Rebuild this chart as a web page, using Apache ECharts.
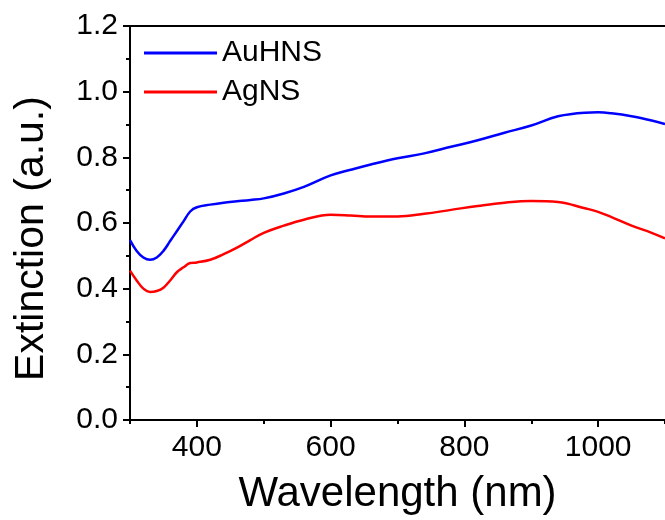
<!DOCTYPE html>
<html>
<head>
<meta charset="utf-8">
<script src="https://cdn.jsdelivr.net/npm/echarts@6/dist/echarts.min.js"></script>
<style>html,body{margin:0;padding:0;background:#fff}#c{width:665px;height:520px}</style>
</head>
<body>
<div id="c"></div>
<script>
const wavelength = [300,310,320,330,340,350,360,370,380,390,400,420,440,460,480,500,530,560,600,630,660,700,740,780,820,860,900,940,980,1000,1020,1050,1080,1100];
const auHNS = [0.548,0.515,0.495,0.488,0.495,0.515,0.545,0.575,0.605,0.635,0.648,0.656,0.662,0.666,0.670,0.675,0.690,0.710,0.745,0.762,0.778,0.797,0.812,0.832,0.852,0.875,0.897,0.925,0.936,0.937,0.934,0.925,0.912,0.901];
const agNS = [0.455,0.425,0.400,0.390,0.393,0.403,0.425,0.450,0.465,0.478,0.480,0.488,0.505,0.525,0.548,0.570,0.592,0.610,0.625,0.623,0.620,0.620,0.628,0.640,0.652,0.662,0.667,0.664,0.645,0.634,0.618,0.592,0.570,0.553];
const seriesNames = ['AuHNS','AgNS'];
const xMajorTicks = [400,600,800,1000];
const xMinorTicks = [300,500,700,900,1100];
const xTitle = 'Wavelength (nm)';
const yTitle = 'Extinction (a.u.)';

const FONT = 'Liberation Sans, Arial, sans-serif';
const chart = echarts.init(document.getElementById('c'), null, {renderer:'canvas'});
const pairs = arr => wavelength.map((w,i)=>[w,arr[i]]);
const axisLine = {show:true, lineStyle:{color:'#000', width:2}};
chart.setOption({
  animation:false,
  backgroundColor:'#fff',
  grid:{left:130, right:-2, top:26, bottom:97, containLabel:false},
  legend:{
    orient:'vertical', left:144, top:37, padding:0, itemWidth:73, itemHeight:3, itemGap:7,
    icon:'rect',
    textStyle:{fontFamily:FONT, fontSize:30, color:'#000', lineHeight:32},
    data:seriesNames
  },
  xAxis:[
    {type:'value', min:300, max:1100, position:'bottom',
     axisLine:axisLine,
     axisTick:{show:true, inside:false, length:7, lineStyle:{color:'#000', width:2}, customValues:xMajorTicks},
     axisLabel:{show:true, margin:13, fontFamily:FONT, fontSize:30, color:'#000', customValues:xMajorTicks, formatter:v=>String(v)},
     splitLine:{show:false},
     name:xTitle, nameLocation:'middle', nameGap:53,
     nameTextStyle:{fontFamily:FONT, fontSize:42, color:'#000'}},
    {type:'value', min:300, max:1100, position:'bottom',
     axisLine:{show:false},
     axisTick:{show:true, length:4, lineStyle:{color:'#000', width:2}, customValues:xMinorTicks},
     axisLabel:{show:false}, splitLine:{show:false}},
    {type:'value', min:300, max:1100, position:'top',
     axisLine:axisLine, axisTick:{show:false}, axisLabel:{show:false}, splitLine:{show:false}}
  ],
  yAxis:[
    {type:'value', min:0, max:1.2, interval:0.2,
     axisLine:axisLine,
     axisTick:{show:true, length:7, lineStyle:{color:'#000', width:2}},
     minorTick:{show:true, splitNumber:2, length:4, lineStyle:{color:'#000', width:2}},
     axisLabel:{margin:12, fontFamily:FONT, fontSize:30, color:'#000', padding:[5,0,0,0], formatter:v=>v.toFixed(1)},
     splitLine:{show:false},
     name:yTitle, nameLocation:'middle', nameGap:78,
     nameTextStyle:{fontFamily:FONT, fontSize:41, color:'#000', padding:[0,31,0,0]}}
  ],
  series:[
    {name:seriesNames[0], type:'line', data:pairs(auHNS), showSymbol:false, smooth:0.4,
     lineStyle:{color:'#0000ff', width:2.5}, itemStyle:{color:'#0000ff'}},
    {name:seriesNames[1], type:'line', data:pairs(agNS), showSymbol:false, smooth:0.4,
     lineStyle:{color:'#ff0000', width:2.5}, itemStyle:{color:'#ff0000'}}
  ]
});
</script>
</body>
</html>
